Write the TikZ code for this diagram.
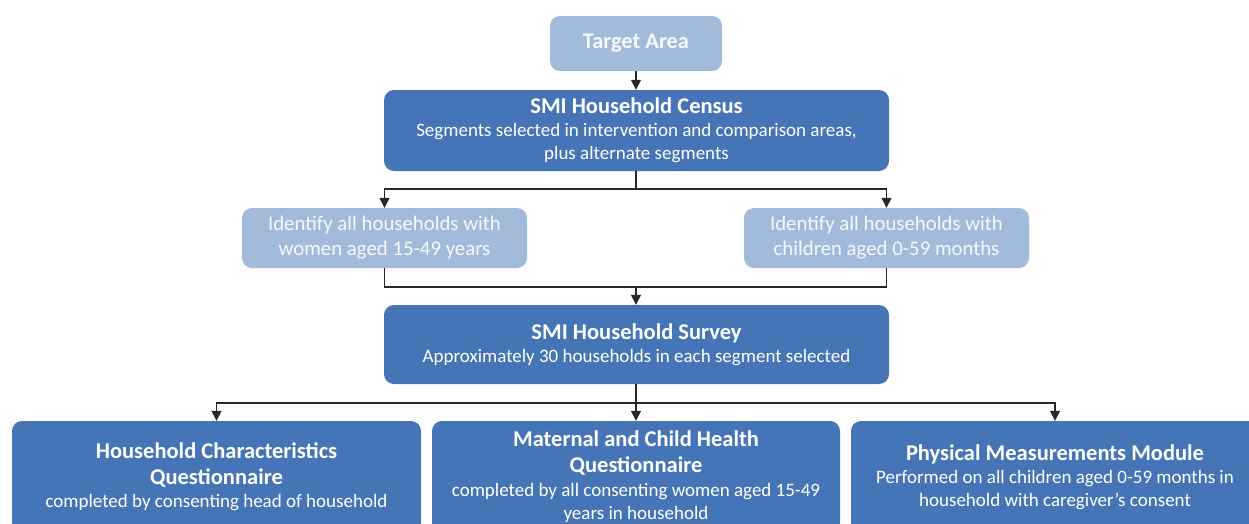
\documentclass[tikz,border=0pt]{standalone}
\usepackage{fontspec}
\setmainfont{Carlito}
\usetikzlibrary{arrows.meta}
\definecolor{darkbox}{RGB}{69,117,182}
\definecolor{lightbox}{RGB}{163,187,219}
\definecolor{boxtext}{RGB}{255,255,255}
\definecolor{lighttext}{RGB}{246,248,252}
\definecolor{linecol}{RGB}{40,40,40}
\newcommand{\ttl}{\fontsize{22.5}{26}\selectfont\bfseries}
\begin{document}
\begin{tikzpicture}[x=1pt,y=-1pt,
  darkstyle/.style={draw=none,fill=darkbox,rounded corners=10pt,text=boxtext,align=center,inner sep=0pt,font=\fontsize{19}{23}\selectfont},
  lightstyle/.style={draw=none,fill=lightbox,rounded corners=10pt,text=lighttext,align=center,inner sep=0pt,font=\fontsize{20.8}{25}\selectfont},
  conn/.style={draw=linecol,line width=1.3pt},
  arr/.style={conn,-{Triangle[width=10pt,length=10pt]}}]
\useasboundingbox (0,0) rectangle (1249,523);
\clip (0,0) rectangle (1249,523);
\node[lightstyle,minimum width=172pt,minimum height=55pt,font=\fontsize{22.4}{26}\selectfont\bfseries] (ta) at (636,43.5) {Target Area};
\node[darkstyle,minimum width=505pt,minimum height=81pt,text depth=3pt] (cen) at (636.5,130.5)
  {{\ttl SMI Household Census}\\Segments selected in intervention and comparison areas,\\plus alternate segments};
\node[lightstyle,minimum width=285pt,minimum height=60pt] (wl) at (384.5,238) {Identify all households with\\women aged 15-49 years};
\node[lightstyle,minimum width=285pt,minimum height=60pt] (wr) at (886.5,238) {Identify all households with\\children aged 0-59 months};
\node[darkstyle,minimum width=505pt,minimum height=79pt] (sv) at (636.5,344.5)
  {{\ttl SMI Household Survey}\\Approximately 30 households in each segment selected};
\node[darkstyle,minimum width=409pt,minimum height=112pt] (b1) at (216.5,477)
  {{\ttl Household Characteristics}\\[3pt]{\ttl Questionnaire}\\completed by consenting head of household};
\node[darkstyle,minimum width=408pt,minimum height=112pt] (b2) at (636,477)
  {{\ttl Maternal and Child Health}\\[3pt]{\ttl Questionnaire}\\[1pt]completed by all consenting women aged 15-49\\years in household};
\node[darkstyle,minimum width=408pt,minimum height=112pt] (b3) at (1055,477)
  {{\ttl Physical Measurements Module}\\Performed on all children aged 0-59 months in\\household with caregiver's consent};
% connectors
\draw[arr] (ta.south) -- (cen.north -| ta.south);
\coordinate (j1) at (636,189);
\draw[conn] (cen.south -| j1) -- (j1);
\draw[arr] (j1) -| (wl.north);
\draw[arr] (j1) -| (wr.north);
\coordinate (j2) at (636,287);
\draw[conn] (wl.south) |- (j2) -| (wr.south);
\draw[arr] (j2) -- (sv.north -| j2);
\coordinate (j3) at (636,403);
\draw[conn] (sv.south -| j3) -- (j3);
\draw[arr] (j3) -| (b1.north);
\draw[arr] (j3) -- (b2.north);
\draw[arr] (j3) -| (b3.north);
\end{tikzpicture}
\end{document}
